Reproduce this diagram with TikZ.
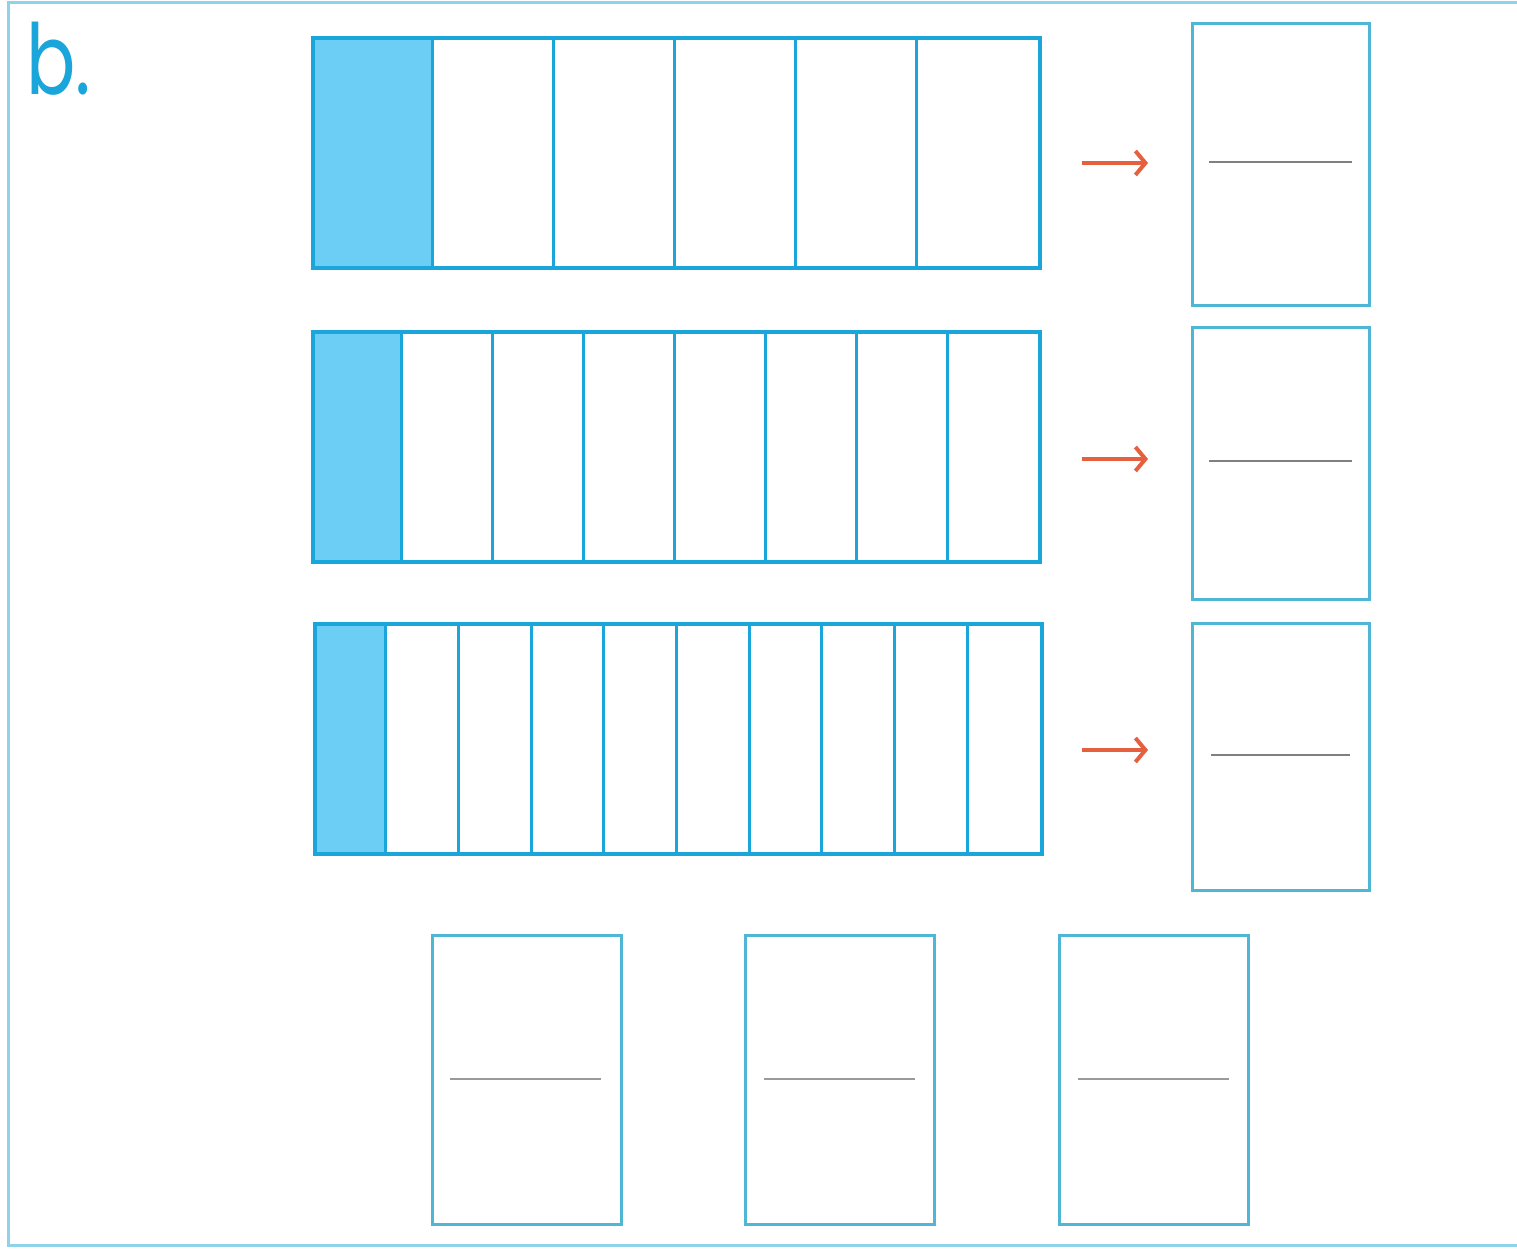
\documentclass[tikz,border=0pt]{standalone}
\usepackage{fontspec}
\newfontfamily\labelfont{Poppins}
\usetikzlibrary{arrows.meta,calc}
\definecolor{barblue}{HTML}{1AA6DA}
\definecolor{fillblue}{HTML}{6CCEF5}
\definecolor{boxblue}{HTML}{4FB6D6}
\definecolor{frameblue}{HTML}{8ED3EA}
\definecolor{arrowred}{HTML}{E4603F}
\definecolor{linegrey}{HTML}{9A9A9A}
\tikzset{
  bar/.style={draw=barblue, line width=3.5pt, minimum height=230pt, inner sep=0pt, anchor=north west},
  divider/.style={draw=barblue, line width=3pt},
  answerbox/.style={draw=boxblue, line width=2.5pt, inner sep=0pt, anchor=north west},
  fracline/.style={draw=linegrey, line width=2.5pt},
  pointer/.style={draw=arrowred, line width=4pt, -{Straight Barb[length=10pt,width=24pt]}},
}
\begin{document}
\begin{tikzpicture}[x=1pt,y=-1pt]
\useasboundingbox (0,0) rectangle (1517,1248);
\fill[white] (0,0) rectangle (1517,1248);
% frame
\draw[frameblue, line width=3pt] (1517,2) -- (8,2) -- (8,1245) -- (1517,1245);
% label
\node[anchor=base west, text=barblue, inner sep=0pt, xscale=0.76, yscale=1.02] (lab) at (26,94) {\labelfont\fontsize{96}{96}\selectfont b.};

% bar 1 : 6 parts
\fill[fillblue] (311,36) rectangle (432,266);
\node[bar, minimum width=727pt] (bar1) at (311,36) {};
\foreach \i in {1,...,5} {\draw[divider] ($(bar1.north west)+(\i*121.17,0)$) -- ($(bar1.south west)+(\i*121.17,0)$);}
% bar 2 : 8 parts
\fill[fillblue] (311,330) rectangle (401.9,560);
\node[bar, minimum width=727pt] (bar2) at (311,330) {};
\foreach \i in {1,...,7} {\draw[divider] ($(bar2.north west)+(\i*90.875,0)$) -- ($(bar2.south west)+(\i*90.875,0)$);}
% bar 3 : 10 parts
\fill[fillblue] (313,622) rectangle (385.7,852);
\node[bar, minimum width=727pt] (bar3) at (313,622) {};
\foreach \i in {1,...,9} {\draw[divider] ($(bar3.north west)+(\i*72.7,0)$) -- ($(bar3.south west)+(\i*72.7,0)$);}

% answer boxes right
\node[answerbox, minimum width=177pt, minimum height=282pt] (r1) at (1191,22) {};
\node[answerbox, minimum width=177pt, minimum height=272pt] (r2) at (1191,326) {};
\node[answerbox, minimum width=177pt, minimum height=267pt] (r3) at (1191,622) {};
\draw[fracline, line width=2pt, draw=gray] (1209,162) -- (1352,162);
\draw[fracline, line width=2pt, draw=gray] (1209,461) -- (1352,461);
\draw[fracline, line width=2pt, draw=gray] (1211,755) -- (1350,755);

% arrows
\coordinate (a1s) at (1082,163); \coordinate (a1e) at (1148,163);
\coordinate (a2s) at (1082,459); \coordinate (a2e) at (1148,459);
\coordinate (a3s) at (1082,750); \coordinate (a3e) at (1148,750);
\draw[pointer] (a1s) -- (a1e);
\draw[pointer] (a2s) -- (a2e);
\draw[pointer] (a3s) -- (a3e);

% answer boxes bottom
\node[answerbox, minimum width=189pt, minimum height=289pt] (bA) at (431,934) {};
\node[answerbox, minimum width=189pt, minimum height=289pt] (bB) at (744,934) {};
\node[answerbox, minimum width=189pt, minimum height=289pt] (bC) at (1058,934) {};
\draw[fracline] (450,1079) -- (601,1079);
\draw[fracline] (764,1079) -- (915,1079);
\draw[fracline] (1078,1079) -- (1229,1079);
\end{tikzpicture}
\end{document}
